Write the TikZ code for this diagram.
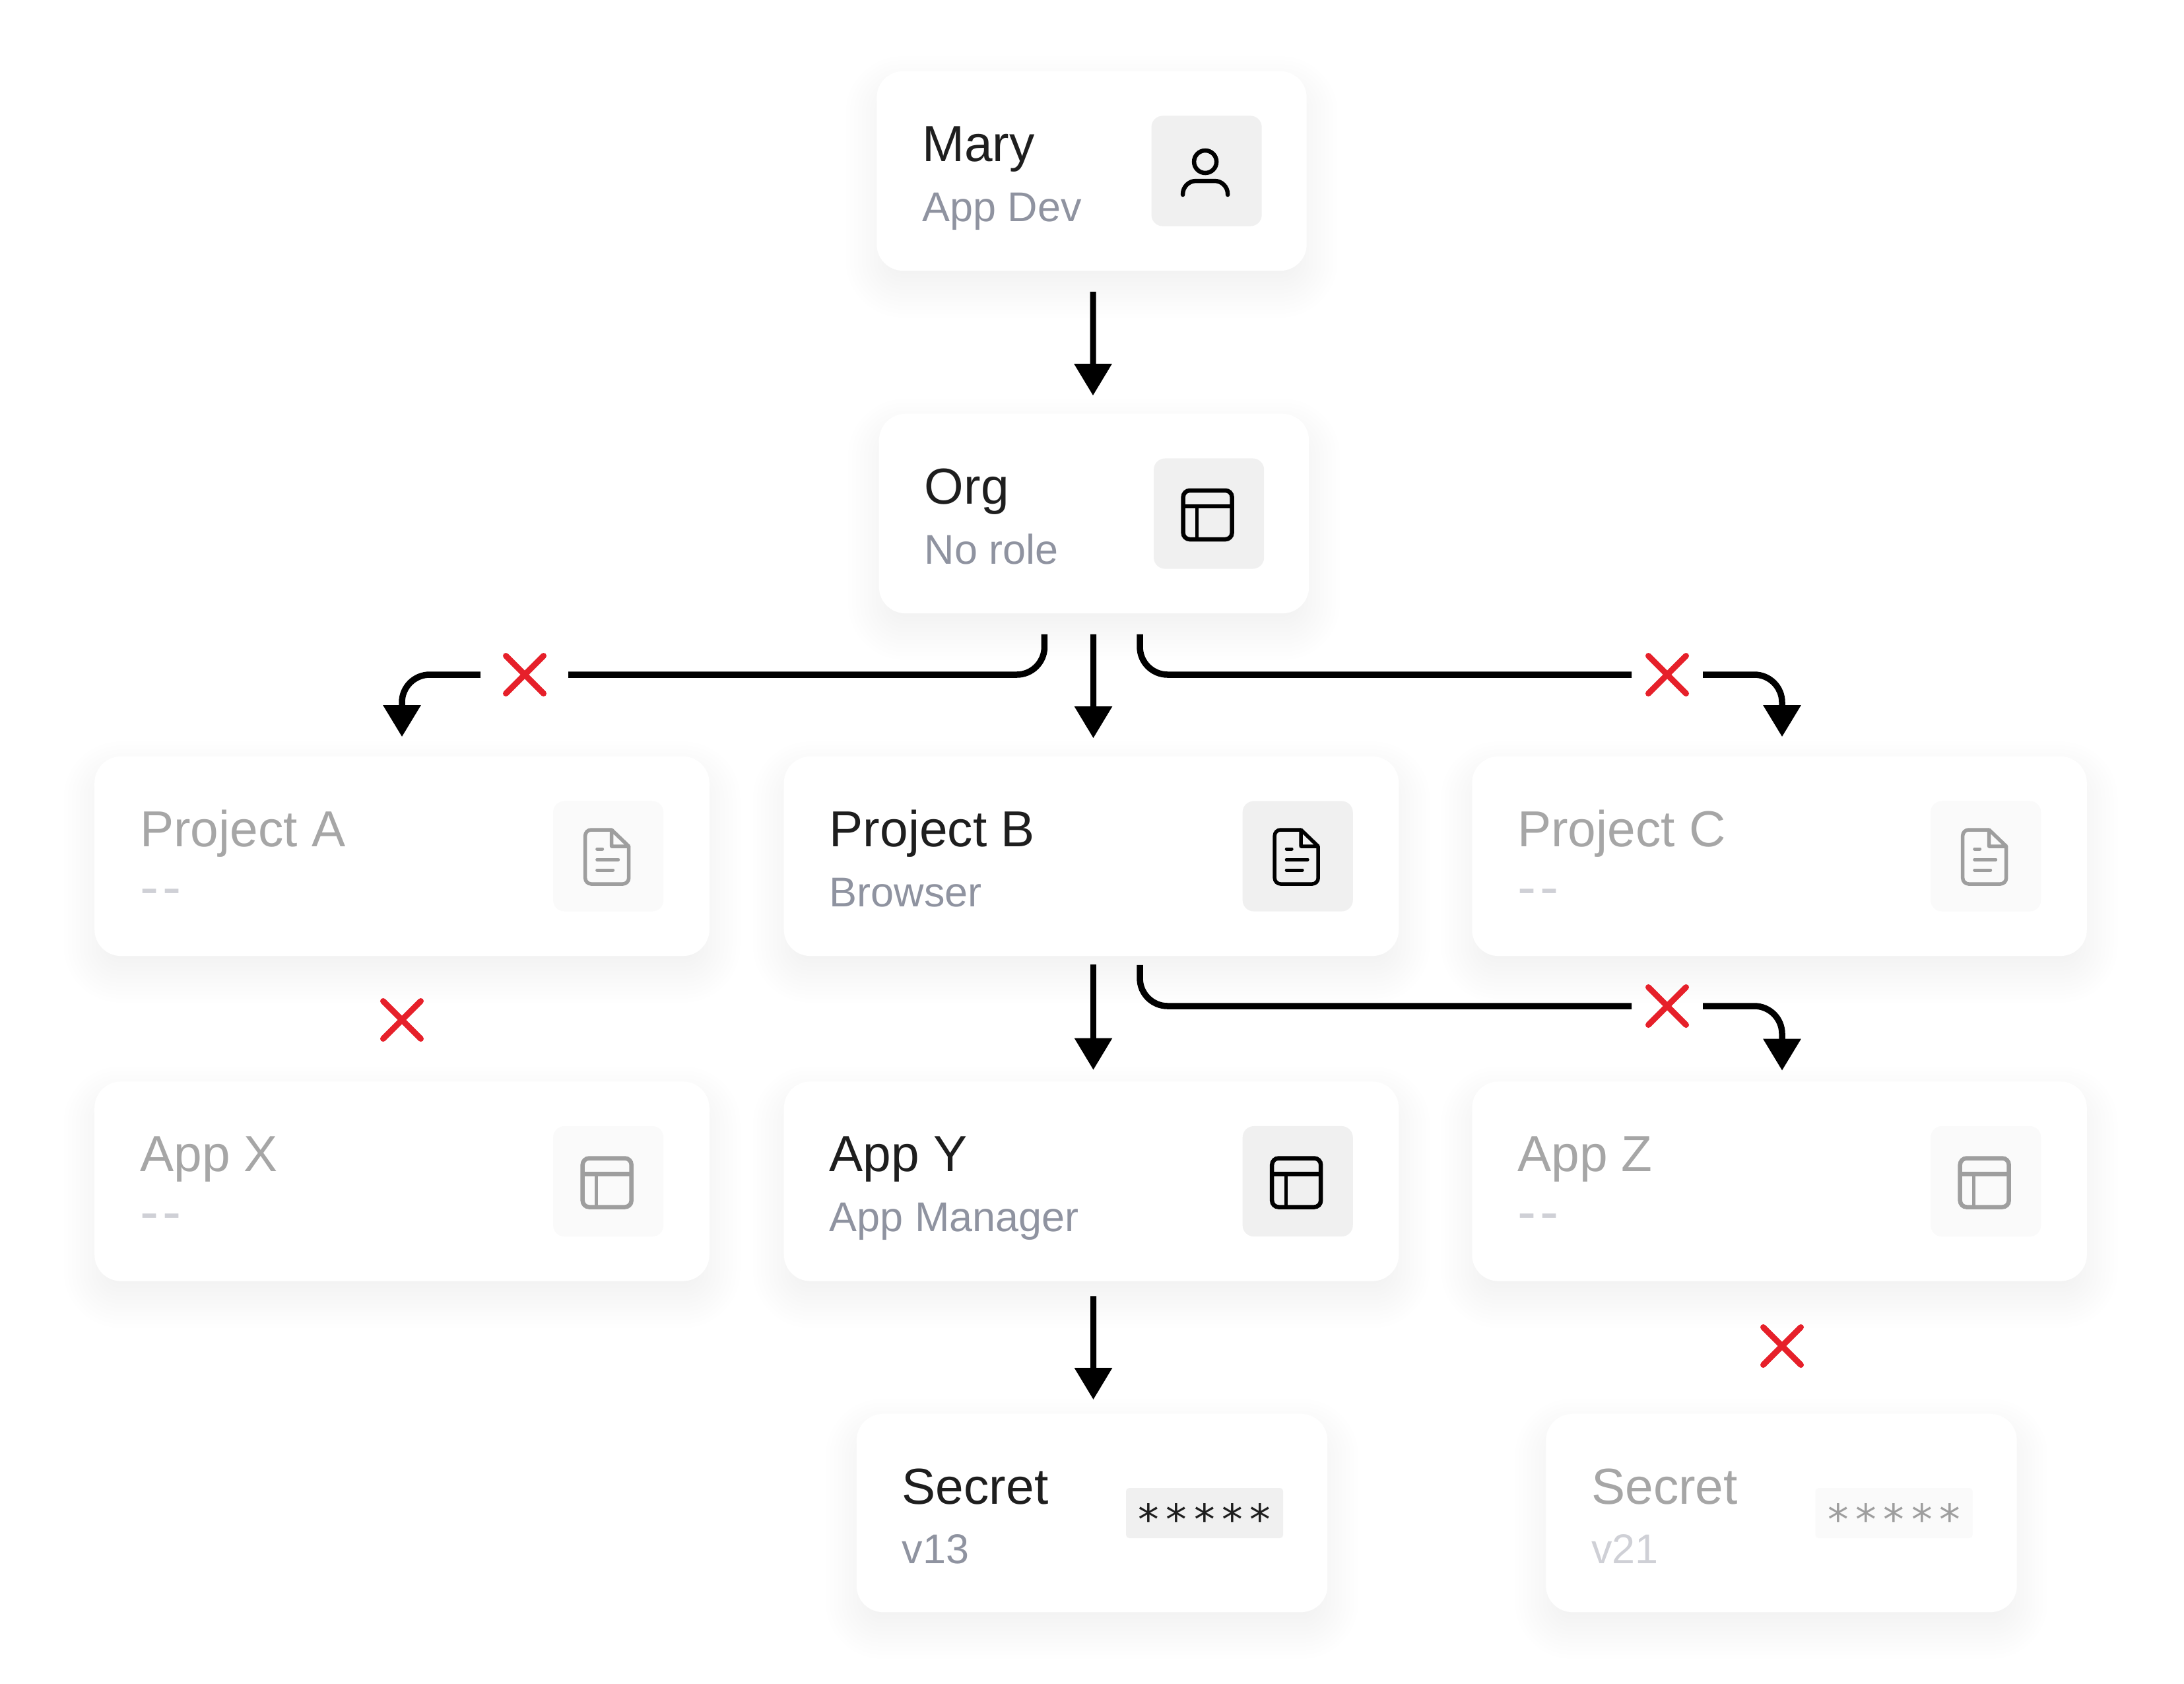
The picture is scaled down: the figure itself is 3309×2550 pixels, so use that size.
\documentclass[tikz,border=0pt]{standalone}
\usepackage{fontspec}
\setmainfont{Liberation Sans}
\newfontfamily\starfont{DejaVu Sans}
\usetikzlibrary{arrows.meta}
\usetikzlibrary{backgrounds}
\usetikzlibrary{shapes.misc}
\definecolor{ink}{HTML}{1E1E1E}
\definecolor{role}{HTML}{8F93A0}
\definecolor{tile}{HTML}{F0F0F0}
\definecolor{fadeink}{HTML}{A6A6A6}
\definecolor{faderole}{HTML}{CFD0D6}
\definecolor{fadetile}{HTML}{FAFAFA}
\definecolor{fadeicon}{HTML}{9E9E9E}
\definecolor{deny}{HTML}{E6202A}

\newcommand{\cardshadow}[2]{
\foreach \s in {-.2,-.14,-.08,-.02,.04,.1,.16,.22,.28,.34,.4,.46} {
\pgfmathsetmacro\r{.4+\s}
\fill[black, opacity=#2, rounded corners=\r cm]
([xshift={(0-\s)*1cm}, yshift={(0-\s-.24)*1cm}]#1.south west) rectangle ([xshift=\s cm, yshift={(\s-.24)*1cm}]#1.north east);
}
}

\tikzset{
card/.style={fill=white, rounded corners=.4cm, inner sep=0, minimum height=3.02cm},
orgcard/.style={card, minimum width=6.51cm},
widecard/.style={card, minimum width=9.31cm},
secretcard/.style={card, minimum width=7.13cm, minimum height=3cm},
cardtitle/.style={anchor=base west, inner sep=0, text=ink, font=\fontsize{21.8}{26}\selectfont},
cardrole/.style={anchor=base west, inner sep=0, text=role, font=\fontsize{17.9}{22}\selectfont},
fadetitle/.style={cardtitle, text=fadeink},
faderolet/.style={cardrole, text=faderole},
dashrole/.style={cardrole, text=faderole, font=\fontsize{24}{26}\selectfont},
icontile/.style={anchor=east, fill=tile, rounded corners=.17cm, inner sep=0, minimum size=1.67cm},
fadedtile/.style={icontile, fill=fadetile},
startile/.style={anchor=east, fill=tile, rounded corners=.05cm, inner sep=0, minimum width=2.38cm, minimum height=.76cm, font=\starfont\fontsize{18}{20}\selectfont},
arrowline/.style={line width=.09cm, -{Triangle[length=.48cm, width=.55cm]}},
bentline/.style={line width=.095cm, rounded corners=.42cm},
cutmark/.style={cross out, draw=deny, line width=.09cm, line cap=round, inner sep=0, outer sep=0, minimum size=.57cm},
personicon/.pic={
\draw[line width=.065cm] (-2,-14) circle (.17cm);
\draw[line width=.065cm, line cap=round, rounded corners=.2cm] (-36,36) -- (-36,15) -- (32,15) -- (32,36);
},
layouticon/.pic={
\draw[line width=.065cm, rounded corners=.1cm] (-39,-35) rectangle (35,39);
\draw[line width=.065cm] (-39,-11) -- (35,-11);
\draw[line width=.05cm] (-18,-11) -- (-18,39);
},
docicon/.pic={
\draw[line width=.055cm, line join=round, rounded corners=.09cm] (5,-40) -- (-35,-40) -- (-35,42) -- (31,42) -- (31,-15);
\draw[line width=.055cm, line join=round] (5,-40) -- (31,-15) -- (5,-15) -- cycle;
\draw[line width=.05cm, line cap=round] (-17,-11) -- (-9,-11);
\draw[line width=.05cm, line cap=round] (-17,5) -- (15,5);
\draw[line width=.05cm, line cap=round] (-17,21) -- (7,21);
}
}

\begin{document}
\begin{tikzpicture}[x=.01cm, y=-.01cm]
\useasboundingbox (0,0) rectangle (3309,2550);

% cards
\node[orgcard] (mary) at (1654,259) {};
\node[orgcard] (org) at (1657.5,778) {};
\node[widecard] (pa) at (609,1297) {};
\node[widecard] (pb) at (1653.5,1297) {};
\node[widecard] (pc) at (2696,1297) {};
\node[widecard] (ax) at (609,1789.5) {};
\node[widecard] (ay) at (1653.5,1789.5) {};
\node[widecard] (az) at (2696,1789.5) {};
\node[secretcard] (sa) at (1654.5,2292) {};
\node[secretcard] (sb) at (2699,2292) {};

\begin{pgfonlayer}{background}
\cardshadow{mary}{.005}
\cardshadow{org}{.005}
\cardshadow{pb}{.005}
\cardshadow{ay}{.005}
\cardshadow{sa}{.005}
\cardshadow{pa}{.002}
\cardshadow{pc}{.002}
\cardshadow{ax}{.002}
\cardshadow{az}{.002}
\cardshadow{sb}{.002}
\end{pgfonlayer}

% texts
\node[cardtitle] (mary-t) at ([xshift=.69cm, yshift=-1.37cm]mary.north west) {Mary};
\node[cardrole] (mary-r) at ([xshift=.69cm, yshift=-2.28cm]mary.north west) {App Dev};
\node[cardtitle] (org-t) at ([xshift=.69cm, yshift=-1.37cm]org.north west) {Org};
\node[cardrole] (org-r) at ([xshift=.69cm, yshift=-2.28cm]org.north west) {No role};
\node[fadetitle] (pa-t) at ([xshift=.69cm, yshift=-1.37cm]pa.north west) {Project A};
\node[dashrole] (pa-r) at ([xshift=.69cm, yshift=-2.27cm]pa.north west) {-\hspace{.07em}-};
\node[cardtitle] (pb-t) at ([xshift=.69cm, yshift=-1.37cm]pb.north west) {Project B};
\node[cardrole] (pb-r) at ([xshift=.69cm, yshift=-2.28cm]pb.north west) {Browser};
\node[fadetitle] (pc-t) at ([xshift=.69cm, yshift=-1.37cm]pc.north west) {Project C};
\node[dashrole] (pc-r) at ([xshift=.69cm, yshift=-2.27cm]pc.north west) {-\hspace{.07em}-};
\node[fadetitle] (ax-t) at ([xshift=.69cm, yshift=-1.37cm]ax.north west) {App X};
\node[dashrole] (ax-r) at ([xshift=.69cm, yshift=-2.27cm]ax.north west) {-\hspace{.07em}-};
\node[cardtitle] (ay-t) at ([xshift=.69cm, yshift=-1.37cm]ay.north west) {App Y};
\node[cardrole] (ay-r) at ([xshift=.69cm, yshift=-2.28cm]ay.north west) {App Manager};
\node[fadetitle] (az-t) at ([xshift=.69cm, yshift=-1.37cm]az.north west) {App Z};
\node[dashrole] (az-r) at ([xshift=.69cm, yshift=-2.27cm]az.north west) {-\hspace{.07em}-};
\node[cardtitle] (sa-t) at ([xshift=.69cm, yshift=-1.37cm]sa.north west) {Secret};
\node[cardrole] (sa-r) at ([xshift=.69cm, yshift=-2.27cm]sa.north west) {v13};
\node[fadetitle] (sb-t) at ([xshift=.69cm, yshift=-1.37cm]sb.north west) {Secret};
\node[faderolet] (sb-r) at ([xshift=.69cm, yshift=-2.27cm]sb.north west) {v21};

% icons
\node[icontile] (mary-i) at ([xshift=-.68cm]mary.east) {};
\pic at (mary-i.center) {personicon};
\node[icontile] (org-i) at ([xshift=-.68cm]org.east) {};
\pic at (org-i.center) {layouticon};
\node[fadedtile] (pa-i) at ([xshift=-.695cm]pa.east) {};
\pic[color=fadeicon] at (pa-i.center) {docicon};
\node[icontile] (pb-i) at ([xshift=-.695cm]pb.east) {};
\pic at (pb-i.center) {docicon};
\node[fadedtile] (pc-i) at ([xshift=-.695cm]pc.east) {};
\pic[color=fadeicon] at (pc-i.center) {docicon};
\node[fadedtile] (ax-i) at ([xshift=-.695cm]ax.east) {};
\pic[color=fadeicon] at (ax-i.center) {layouticon};
\node[icontile] (ay-i) at ([xshift=-.695cm]ay.east) {};
\pic at (ay-i.center) {layouticon};
\node[fadedtile] (az-i) at ([xshift=-.695cm]az.east) {};
\pic[color=fadeicon] at (az-i.center) {layouticon};
\node[startile, text=ink] (sa-i) at ([xshift=-.67cm]sa.east) {\raisebox{-.51em}[0pt][0pt]{\makebox[.423cm]{*}\makebox[.423cm]{*}\makebox[.423cm]{*}\makebox[.423cm]{*}\makebox[.423cm]{*}}};
\node[startile, fill=fadetile, text=fadeicon] (sb-i) at ([xshift=-.67cm]sb.east) {\raisebox{-.51em}[0pt][0pt]{\makebox[.423cm]{*}\makebox[.423cm]{*}\makebox[.423cm]{*}\makebox[.423cm]{*}\makebox[.423cm]{*}}};

% red marks
\node[cutmark] (cut-a) at (795,1022) {};
\node[cutmark] (cut-c) at (2526,1022) {};
\node[cutmark] (cut-z) at (2526,1524) {};
\node[cutmark] (cut-x) at (609,1545) {};
\node[cutmark] (cut-s) at (2700,2039) {};

% straight arrows
\draw[arrowline] ([xshift=.02cm, yshift=-.31cm]mary.south) -- ([xshift=-.015cm, yshift=.27cm]org.north);
\draw[arrowline] ([xshift=-.01cm, yshift=-.31cm]org.south) -- ([xshift=.03cm, yshift=.27cm]pb.north);
\draw[arrowline] ([xshift=.03cm, yshift=-.12cm]pb.south) -- ([xshift=.03cm, yshift=.17cm]ay.north);
\draw[arrowline] ([xshift=.03cm, yshift=-.22cm]ay.south) -- ([xshift=.02cm, yshift=.21cm]sa.north);

% bent arrows
\draw[bentline, shorten >=.375cm] ([xshift=-.75cm, yshift=-.31cm]org.south) |- (cut-a.east);
\draw[bentline, -{Triangle[length=.48cm, width=.55cm]}, shorten <=.385cm] (cut-a.west) -| ([yshift=.29cm]pa.north);
\draw[bentline, shorten >=.255cm] ([xshift=.695cm, yshift=-.31cm]org.south) |- (cut-c.west);
\draw[bentline, -{Triangle[length=.48cm, width=.55cm]}, shorten <=.255cm] (cut-c.east) -| ([xshift=.04cm, yshift=.29cm]pc.north);
\draw[bentline, shorten >=.255cm] ([xshift=.735cm, yshift=-.13cm]pb.south) |- (cut-z.west);
\draw[bentline, -{Triangle[length=.48cm, width=.55cm]}, shorten <=.255cm] (cut-z.east) -| ([xshift=.04cm, yshift=.16cm]az.north);
\end{tikzpicture}
\end{document}
